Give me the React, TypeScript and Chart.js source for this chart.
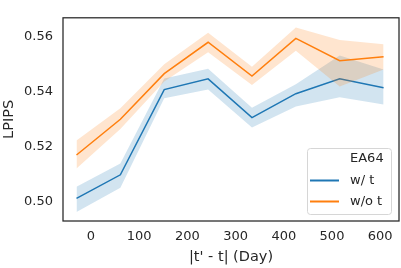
import React, { useEffect, useRef } from 'react';
import { Chart, registerables } from 'chart.js';

Chart.register(...registerables);

// ---- data ----
const days = [-30, 61, 152, 243, 334, 425, 516, 607];
const withT = [0.5011, 0.5097, 0.5407, 0.5446, 0.5305, 0.5392, 0.5446, 0.5414];
const withTLow = [0.4962, 0.505, 0.5375, 0.5407, 0.5269, 0.5345, 0.5379, 0.5353];
const withTHigh = [0.5054, 0.5138, 0.5447, 0.5483, 0.5341, 0.5426, 0.5531, 0.548];
const withoutT = [0.5169, 0.5299, 0.5465, 0.5579, 0.5456, 0.5593, 0.5512, 0.5526];
const withoutTLow = [0.512, 0.5264, 0.5436, 0.5543, 0.5424, 0.5548, 0.5418, 0.548];
const withoutTHigh = [0.5222, 0.5339, 0.5499, 0.5614, 0.549, 0.5633, 0.5587, 0.5572];
const xTicks = [0, 100, 200, 300, 400, 500, 600];
const yTicks = [0.5, 0.52, 0.54, 0.56];
const legendTitle = 'EA64';
const seriesLabels = ['w/ t', 'w/o t'];
const xTitle = "|t' - t| (Day)";
const yTitle = 'LPIPS';

const BLUE = '#1f77b4';
const ORANGE = '#ff7f0e';
const BLUE_BAND = 'rgba(31,119,180,0.2)';
const ORANGE_BAND = 'rgba(255,127,14,0.2)';
const TEXT = '#262626';
const FONT = 'DejaVu Sans';

const pts = (ys: number[]) => ys.map((y, i) => ({ x: days[i], y }));

export default function App() {
  const ref = useRef<HTMLCanvasElement>(null);

  useEffect(() => {
    if (!ref.current) return;

    const framePlugin = {
      id: 'frame',
      afterDatasetsDraw(chart: any) {
        const { ctx, chartArea: a } = chart;
        ctx.save();
        ctx.strokeStyle = TEXT;
        ctx.lineWidth = 1.25;
        ctx.strokeRect(a.left, a.top, a.right - a.left, a.bottom - a.top);
        ctx.restore();
      },
    };

    const legendPlugin = {
      id: 'sbLegend',
      afterDraw(chart: any) {
        const { ctx, chartArea: a } = chart;
        const w = 84;
        const h = 66;
        const x0 = a.right - 8 - w;
        const y0 = a.bottom - 7 - h;
        ctx.save();
        ctx.beginPath();
        (ctx as any).roundRect(x0 + 0.5, y0 + 0.5, w, h, 3);
        ctx.fillStyle = 'rgba(255,255,255,0.8)';
        ctx.fill();
        ctx.strokeStyle = '#d6d6d6';
        ctx.lineWidth = 1;
        ctx.stroke();
        ctx.font = `13px "${FONT}"`;
        ctx.fillStyle = TEXT;
        ctx.textBaseline = 'middle';
        ctx.textAlign = 'left';
        const rows = [y0 + 11, y0 + 32.5, y0 + 53.5];
        const tx = x0 + 43;
        ctx.fillText(legendTitle, tx, rows[0]);
        const cols = [BLUE, ORANGE];
        seriesLabels.forEach((lab, i) => {
          const y = rows[i + 1];
          ctx.strokeStyle = cols[i];
          ctx.lineWidth = 2;
          ctx.beginPath();
          ctx.moveTo(x0 + 3, y);
          ctx.lineTo(x0 + 32, y);
          ctx.stroke();
          ctx.fillText(lab, tx, y);
        });
        ctx.restore();
      },
    };

    const lineDs = (label: string, data: number[], color: string, order: number) => ({
      label,
      data: pts(data),
      borderColor: color,
      borderWidth: 1.5,
      pointRadius: 0,
      fill: false,
      tension: 0,
      order,
    });
    const bandDs = (data: number[], bg: string, fill: any, order: number) => ({
      label: '',
      data: pts(data),
      borderWidth: 0,
      borderColor: 'rgba(0,0,0,0)',
      backgroundColor: bg,
      pointRadius: 0,
      fill,
      tension: 0,
      order,
    });

    const chart = new Chart(ref.current, {
      type: 'line',
      data: {
        datasets: [
          lineDs(seriesLabels[1], withoutT, ORANGE, 0),
          bandDs(withoutTHigh, ORANGE_BAND, '+1', 1),
          bandDs(withoutTLow, ORANGE_BAND, false, 2),
          lineDs(seriesLabels[0], withT, BLUE, 3),
          bandDs(withTHigh, BLUE_BAND, '+1', 4),
          bandDs(withTLow, BLUE_BAND, false, 5),
        ] as any,
      },
      options: {
        responsive: false,
        animation: false,
        devicePixelRatio: 1,
        layout: { padding: { top: 3, right: 2, left: 0, bottom: 0 } },
        plugins: {
          legend: { display: false },
          tooltip: { enabled: false },
        },
        scales: {
          x: {
            type: 'linear',
            min: -58,
            max: 639,
            grid: { display: false, drawTicks: false },
            border: { display: false },
            afterFit(scale: any) {
              scale.height = 47;
            },
            afterBuildTicks(scale: any) {
              scale.ticks = xTicks.map((v) => ({ value: v }));
            },
            ticks: {
              padding: 8,
              color: TEXT,
              font: { family: FONT, size: 13 },
              maxRotation: 0,
              autoSkip: false,
            },
            title: {
              display: true,
              text: xTitle,
              color: TEXT,
              font: { family: FONT, size: 14.5 },
              padding: { top: 0, bottom: 2 },
            },
          },
          y: {
            type: 'linear',
            min: 0.4929,
            max: 0.5668,
            grid: { display: false, drawTicks: false },
            border: { display: false },
            afterFit(scale: any) {
              scale.width = 63;
            },
            afterBuildTicks(scale: any) {
              scale.ticks = yTicks.map((v) => ({ value: v }));
            },
            ticks: {
              padding: 10,
              color: TEXT,
              font: { family: FONT, size: 13 },
              callback: (v: any) => Number(v).toFixed(2),
            },
            title: {
              display: true,
              text: yTitle,
              color: TEXT,
              font: { family: FONT, size: 14.5 },
              padding: { top: 1, bottom: 0 },
            },
          },
        },
      } as any,
      plugins: [framePlugin, legendPlugin],
    });

    return () => chart.destroy();
  }, []);

  return (
    <div style={{ position: 'fixed', left: 0, top: 0, width: 401, height: 268, background: '#fff' }}>
      <canvas ref={ref} width={401} height={268} style={{ display: 'block' }} />
    </div>
  );
}
